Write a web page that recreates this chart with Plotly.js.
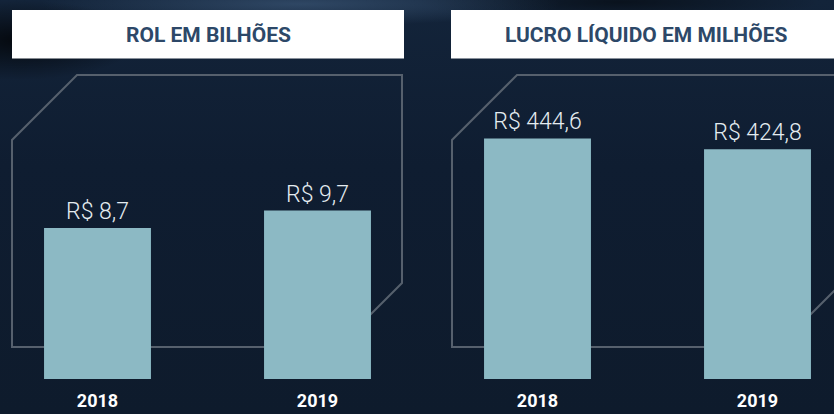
<!DOCTYPE html>
<html>
<head>
<meta charset="utf-8">
<script src="https://cdn.plot.ly/plotly-3.0.1.min.js"></script>
<style>
  html, body { margin: 0; padding: 0; }
  body {
    width: 834px; height: 414px; overflow: hidden;
    background:
      radial-gradient(ellipse 120px 40px at 20px 40px, rgba(0,0,0,0.75), rgba(0,0,0,0) 100%),
      radial-gradient(ellipse 260px 22px at 300px 4px, rgba(70,100,135,0.55), rgba(0,0,0,0) 100%),
      radial-gradient(ellipse 200px 20px at 620px 2px, rgba(0,0,0,0.5), rgba(0,0,0,0) 100%),
      linear-gradient(180deg, #13243a 0%, #0f1d31 40%, #0e1b2c 100%);
  }
  #chart { width: 834px; height: 414px; }
</style>
</head>
<body>
<div id="chart"></div>
<script>
// ---- data ----
const categories = ['2018', '2019'];
const rolValues = [8.7, 9.7];
const lucroValues = [444.6, 424.8];
const rolLabels = ['R$ 8,7', 'R$ 9,7'];
const lucroLabels = ['R$ 444,6', 'R$ 424,8'];
const panelTitles = ['ROL EM BILHÕES', 'LUCRO LÍQUIDO EM MILHÕES'];

// ---- styling / layout helpers ----
const W = 834, PLOT_H = 379;
const px = (x) => x / W;
const py = (y) => 1 - y / PLOT_H;
function poly(pts) {
  return 'M ' + pts.map(p => px(p[0]) + ',' + py(p[1])).join(' L ') + ' Z';
}

const barColor = '#8cb9c4';
const labelFont = {family: 'Roboto', size: 23, color: '#e4ecf0', weight: 300};
const tickFont = {family: 'Roboto', size: 18, color: '#ffffff', weight: 700};

const traces = [
  {
    type: 'bar', x: categories, y: rolValues, xaxis: 'x', yaxis: 'y',
    text: rolLabels, textposition: 'outside', textfont: labelFont,
    marker: {color: barColor}, width: 0.486, cliponaxis: false, hoverinfo: 'none'
  },
  {
    type: 'bar', x: categories, y: lucroValues, xaxis: 'x2', yaxis: 'y2',
    text: lucroLabels, textposition: 'outside', textfont: labelFont,
    marker: {color: barColor}, width: 0.486, cliponaxis: false, hoverinfo: 'none'
  }
];

const xBase = {
  type: 'category', showgrid: false, zeroline: false, showline: false,
  ticks: 'outside', ticklen: 5, tickcolor: 'rgba(0,0,0,0)',
  tickfont: tickFont, fixedrange: true
};
const yBase = {visible: false, showgrid: false, zeroline: false, fixedrange: true};

const lineStyle = {color: '#56606d', width: 2};

const layout = {
  width: 834, height: 414,
  margin: {l: 0, r: 0, t: 0, b: 35},
  paper_bgcolor: 'rgba(0,0,0,0)',
  plot_bgcolor: 'rgba(0,0,0,0)',
  showlegend: false,
  bargap: 0.5,
  xaxis: Object.assign({}, xBase, {domain: [0, 0.5], range: [-97.5 / 220, (417 - 97.5) / 220], anchor: 'y'}),
  yaxis: Object.assign({}, yBase, {domain: [0, 1], range: [0, 379 / 17.36], anchor: 'x'}),
  xaxis2: Object.assign({}, xBase, {domain: [0.5, 1], range: [(417 - 537.5) / 220, (834 - 537.5) / 220], anchor: 'y2'}),
  yaxis2: Object.assign({}, yBase, {domain: [0, 1], range: [0, 379 / 0.541], anchor: 'x2'}),
  shapes: [
    {type: 'path', xref: 'paper', yref: 'paper', layer: 'below', line: lineStyle,
     path: poly([[77, 75], [402, 75], [402, 283], [338, 347], [12, 347], [12, 140]])},
    {type: 'path', xref: 'paper', yref: 'paper', layer: 'below', line: lineStyle,
     path: poly([[517, 75], [842, 75], [842, 283], [778, 347], [452, 347], [452, 140]])},
    {type: 'rect', xref: 'paper', yref: 'paper', layer: 'below', line: {width: 0}, fillcolor: '#ffffff',
     x0: px(12), x1: px(404), y0: py(58.5), y1: py(10)},
    {type: 'rect', xref: 'paper', yref: 'paper', layer: 'below', line: {width: 0}, fillcolor: '#ffffff',
     x0: px(451), x1: px(845), y0: py(58.5), y1: py(10)}
  ],
  annotations: [
    {xref: 'paper', yref: 'paper', x: px(208), y: py(34.5), text: panelTitles[0], showarrow: false,
     xanchor: 'center', yanchor: 'middle', font: {family: 'Roboto', size: 21, color: '#2d4868', weight: 700}},
    {xref: 'paper', yref: 'paper', x: px(646), y: py(34.5), text: panelTitles[1], showarrow: false,
     xanchor: 'center', yanchor: 'middle', font: {family: 'Roboto', size: 21, color: '#2d4868', weight: 700}}
  ]
};

Plotly.newPlot('chart', traces, layout, {displayModeBar: false, staticPlot: true});
</script>
</body>
</html>
